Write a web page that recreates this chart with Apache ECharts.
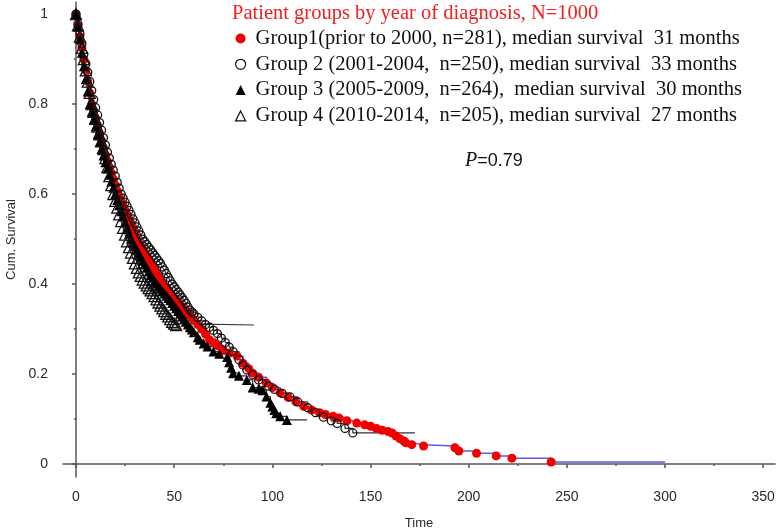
<!DOCTYPE html>
<html>
<head>
<meta charset="utf-8">
<script src="https://cdn.jsdelivr.net/npm/echarts@6/dist/echarts.min.js"></script>
<style>
  html, body { margin: 0; padding: 0; background: #fff; }
  #chart { width: 778px; height: 531px; }
</style>
</head>
<body>
<div id="chart"></div>
<script>
// months 0..60, shared by the dense early part of every curve
const months = [0,1,2,3,4,5,6,7,8,9,10,11,12,13,14,15,16,17,18,19,20,21,22,23,24,25,26,27,28,29,30,
  31,32,33,34,35,36,37,38,39,40,41,42,43,44,45,46,47,48,49,50,51,52,53,54,55,56,57,58,59,60]

const groupNames = [
  'Group1(prior to 2000, n=281), median survival  31 months',
  'Group 2 (2001-2004,  n=250), median survival  33 months',
  'Group 3 (2005-2009,  n=264),  median survival  30 months',
  'Group 4 (2010-2014,  n=205), median survival  27 months'
]

// group 1 (red dots)
const g1Early = [1.000,0.975,0.950,0.925,0.900,0.875,0.850,0.825,0.800,0.783,
  0.767,0.750,0.733,0.717,0.700,0.687,0.673,0.660,0.647,0.633,
  0.620,0.607,0.595,0.584,0.574,0.563,0.553,0.542,0.532,0.521,
  0.511,0.500,0.492,0.485,0.477,0.469,0.462,0.454,0.446,0.438,
  0.431,0.423,0.415,0.408,0.400,0.395,0.390,0.385,0.379,0.374,
  0.369,0.364,0.359,0.354,0.349,0.344,0.340,0.335,0.330,0.325,0.320]
const g1TailTime = [62,64,66,68,70,72,75,78,82,85,88,90,93,97,100,104,108,112,116,120,124,127,131,134,138,
  143,147,150,153,156,159,161,163,165,167,168,171,177,193,195,204,214,222,242]
const g1TailSurv = [0.310,0.300,0.288,0.276,0.270,0.263,0.253,0.246,0.240,0.224,0.212,0.202,0.193,0.180,0.170,
  0.158,0.148,0.138,0.128,0.120,0.114,0.110,0.106,0.102,0.096,0.091,0.087,0.084,0.079,0.075,
  0.072,0.069,0.062,0.056,0.051,0.047,0.043,0.040,0.036,0.029,0.024,0.018,0.013,0.0044]
const g1End = 300

// group 2 (open circles)
const g2Early = [1.000,0.978,0.956,0.934,0.911,0.890,0.871,0.850,0.830,0.810,
  0.792,0.776,0.759,0.742,0.725,0.709,0.693,0.680,0.666,0.653,
  0.640,0.626,0.613,0.600,0.591,0.582,0.573,0.564,0.555,0.545,
  0.536,0.527,0.518,0.509,0.500,0.494,0.488,0.482,0.476,0.470,
  0.464,0.458,0.452,0.446,0.438,0.431,0.423,0.415,0.407,0.400,
  0.394,0.388,0.382,0.376,0.370,0.364,0.357,0.349,0.342,0.338,0.334]
const g2TailTime = [62,64,66,68,70,72,74,76,78,80,83,85,87,90,93,95,98,101,105,109,113,118,122,126,130,133,137,141]
const g2TailSurv = [0.326,0.318,0.310,0.304,0.297,0.290,0.280,0.270,0.260,0.250,0.232,0.220,0.209,0.198,
  0.187,0.180,0.173,0.166,0.157,0.149,0.138,0.125,0.114,0.104,0.096,0.090,0.079,0.069]
const g2End = 172.6

// group 3 (filled triangles)
const g3Early = [1.000,0.972,0.944,0.914,0.884,0.856,0.828,0.800,0.783,0.766,
  0.750,0.733,0.716,0.700,0.686,0.671,0.657,0.643,0.628,0.614,
  0.600,0.587,0.575,0.562,0.550,0.537,0.525,0.512,0.500,0.492,
  0.484,0.476,0.468,0.460,0.452,0.444,0.436,0.428,0.420,0.414,
  0.407,0.401,0.395,0.390,0.384,0.379,0.374,0.369,0.364,0.358,
  0.352,0.346,0.340,0.334,0.328,0.322,0.316,0.310,0.304,0.299,0.293]
const g3TailTime = [62,63,65,67,70,73,77,78,79,80,83,87,90,93,95,97,99,100,101,102,104,107.4]
const g3TailSurv = [0.282,0.276,0.268,0.261,0.250,0.245,0.238,0.226,0.214,0.202,0.196,0.187,0.170,0.167,
  0.164,0.150,0.136,0.128,0.120,0.113,0.106,0.098]
const g3End = 117.6

// group 4 (open triangles), follow-up stops at 51 months
const g4Early = [1.000,0.975,0.950,0.925,0.900,0.875,0.850,0.825,0.800,0.783,
  0.767,0.750,0.733,0.717,0.700,0.680,0.660,0.640,0.620,0.600,
  0.585,0.570,0.555,0.540,0.525,0.510,0.495,0.482,0.470,0.458,
  0.446,0.436,0.426,0.418,0.410,0.403,0.397,0.391,0.386,0.380,
  0.373,0.366,0.359,0.352,0.346,0.340,0.334,0.328,0.322,0.316,0.312,0.309]
const g4TailTime = []
const g4TailSurv = []
const g4End = 90.6

const xLabelValues = [0,50,100,150,200,250,300,350]
const xMinorValues = [25,75,125,175,225,275,325]
const yLabelValues = [0,0.2,0.4,0.6,0.8,1]
const yMinorValues = [0.1,0.3,0.5,0.7,0.9]

function curve(early, tailTime, tailSurv, endTime) {
  const times = months.slice(0, early.length).concat(tailTime)
  const surv = early.concat(tailSurv)
  const pts = times.map((t, i) => [t, surv[i]])
  // censored end of follow-up: line only
  pts.push({ value: [endTime, surv[surv.length - 1]], symbol: 'none' })
  return pts
}

const chart = echarts.init(document.getElementById('chart'))

const labelFont = { fontFamily: 'Liberation Sans', fontSize: 14, color: '#2a2a2a' }
const axisLine = { show: true, lineStyle: { color: '#555', width: 1.5 } }

const baseSeries = {
  type: 'line',
  step: 'end',
  showAllSymbol: true,
  animation: false,
  emphasis: { disabled: true },
  xAxisIndex: 0,
  yAxisIndex: 0
}

chart.setOption({
  animation: false,
  title: {
    text: 'Patient groups by year of diagnosis, N=1000',
    left: 232,
    top: 3,
    padding: 0,
    textStyle: { color: '#ee2020', fontFamily: 'Liberation Serif', fontSize: 20.5, fontWeight: 'normal' }
  },
  legend: {
    orient: 'vertical',
    left: 235,
    top: 28,
    padding: 0,
    itemGap: 4.8,
    itemWidth: 10,
    itemHeight: 10,
    selectedMode: false,
    textStyle: { fontFamily: 'Liberation Serif', fontSize: 20.5, color: '#111', padding: [0, 0, 0, 5] },
    data: [
      { name: groupNames[0], icon: 'circle', itemStyle: { color: '#f00000', borderWidth: 0 } },
      { name: groupNames[1], icon: 'circle', itemStyle: { color: 'rgba(0,0,0,0)', borderColor: '#111', borderWidth: 1.2 } },
      { name: groupNames[2], icon: 'triangle', itemStyle: { color: '#000', borderWidth: 0 } },
      { name: groupNames[3], icon: 'triangle', itemStyle: { color: 'rgba(0,0,0,0)', borderColor: '#111', borderWidth: 1.2 } }
    ]
  },
  grid: { left: 63, right: 3, top: 2, bottom: 54, containLabel: false, outerBoundsMode: 'none' },
  xAxis: [{
    type: 'value',
    min: -6.62,
    max: 356,
    name: 'Time',
    nameLocation: 'middle',
    nameGap: 40,
    nameTextStyle: { fontFamily: 'Liberation Sans', fontSize: 13, color: '#2a2a2a' },
    axisLine: axisLine,
    axisTick: { show: true, length: 4, customValues: xLabelValues, lineStyle: { color: '#555', width: 1.5 } },
    axisLabel: { customValues: xLabelValues, margin: 13, ...labelFont },
    splitLine: { show: false }
  }, {
    type: 'value',
    min: -6.62,
    max: 356,
    position: 'bottom',
    axisLine: { show: false },
    axisTick: { show: true, length: 2, customValues: xMinorValues, lineStyle: { color: '#555', width: 1.5 } },
    axisLabel: { show: false },
    splitLine: { show: false }
  }],
  yAxis: [{
    type: 'value',
    min: -0.0289,
    max: 1.027,
    name: 'Cum. Survival',
    nameLocation: 'middle',
    nameGap: 44,
    nameTextStyle: { fontFamily: 'Liberation Sans', fontSize: 13, color: '#2a2a2a' },
    axisLine: axisLine,
    axisTick: { show: true, length: 4, customValues: yLabelValues, lineStyle: { color: '#555', width: 1.5 } },
    axisLabel: { customValues: yLabelValues, margin: 15, ...labelFont },
    splitLine: { show: false }
  }, {
    type: 'value',
    min: -0.0289,
    max: 1.027,
    position: 'left',
    axisLine: { show: false },
    axisTick: { show: true, length: 2, customValues: yMinorValues, lineStyle: { color: '#555', width: 1.5 } },
    axisLabel: { show: false },
    splitLine: { show: false }
  }],
  graphic: [{
    type: 'text',
    left: 465,
    top: 151,
    style: {
      text: '{i|P}{n|=0.79}',
      rich: {
        i: { fontFamily: 'Liberation Serif', fontStyle: 'italic', fontSize: 20, fill: '#111' },
        n: { fontFamily: 'Liberation Sans', fontSize: 18, fill: '#111' }
      }
    }
  }],
  series: [
    Object.assign({}, baseSeries, {
      name: groupNames[0],
      data: curve(g1Early, g1TailTime, g1TailSurv, g1End),
      symbol: 'circle',
      symbolSize: 9,
      itemStyle: { color: '#f00000' },
      lineStyle: { color: '#5a5ae6', width: 1.5 }
    }),
    Object.assign({}, baseSeries, {
      name: groupNames[1],
      data: curve(g2Early, g2TailTime, g2TailSurv, g2End),
      symbol: 'circle',
      symbolSize: 8,
      itemStyle: { color: 'rgba(0,0,0,0)', borderColor: '#111', borderWidth: 1.3 },
      lineStyle: { color: '#333', width: 1.2 }
    }),
    Object.assign({}, baseSeries, {
      name: groupNames[2],
      data: curve(g3Early, g3TailTime, g3TailSurv, g3End),
      symbol: 'triangle',
      symbolSize: 10,
      itemStyle: { color: '#000' },
      lineStyle: { color: '#333', width: 1.2 }
    }),
    Object.assign({}, baseSeries, {
      name: groupNames[3],
      data: curve(g4Early, g4TailTime, g4TailSurv, g4End),
      symbol: 'triangle',
      symbolSize: 11,
      itemStyle: { color: 'rgba(0,0,0,0)', borderColor: '#111', borderWidth: 1.3 },
      lineStyle: { color: '#333', width: 1.2 }
    })
  ]
})
</script>
</body>
</html>
